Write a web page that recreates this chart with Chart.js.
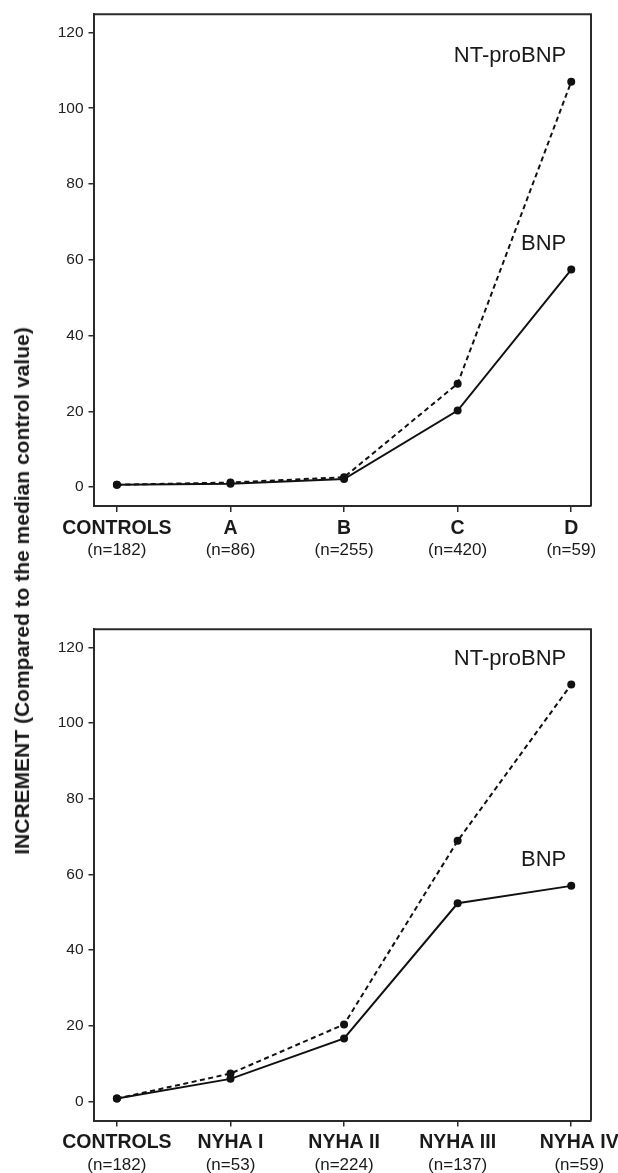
<!DOCTYPE html>
<html>
<head>
<meta charset="utf-8">
<script src="https://cdn.jsdelivr.net/npm/chart.js@4/dist/chart.umd.min.js"></script>
<style>
  html, body { margin: 0; padding: 0; background: #fff; }
  #page { position: relative; width: 618px; height: 1173px; overflow: hidden; }
  canvas { position: absolute; left: 0; }
  #cvStage { top: 0; }
  #cvNyha { top: 580px; }
  #ytitle {
    position: absolute; left: 22px; top: 591px; white-space: nowrap;
    transform: translate(-50%, -50%) rotate(-90deg);
    font: bold 21px "Liberation Sans", Arial, sans-serif; color: #1a1a1a;
  }
</style>
</head>
<body>
<div id="page">
  <canvas id="cvStage" width="618" height="580"></canvas>
  <canvas id="cvNyha" width="618" height="593"></canvas>
  <div id="ytitle">INCREMENT (Compared to the median control value)</div>
</div>
<script>
// ===== Data =====
const stageCats   = ["CONTROLS", "A", "B", "C", "D"];
const stageCounts = ["(n=182)", "(n=86)", "(n=255)", "(n=420)", "(n=59)"];
const stageBNP    = [0.6, 0.9, 2.1, 20.2, 57.4];
const stageNT     = [0.6, 1.2, 2.6, 27.3, 107.0];

const nyhaCats   = ["CONTROLS", "NYHA I", "NYHA II", "NYHA III", "NYHA IV"];
const nyhaCounts = ["(n=182)", "(n=53)", "(n=224)", "(n=137)", "(n=59)"];
const nyhaBNP    = [0.8, 6.0, 16.7, 52.4, 57.0];
const nyhaNT     = [0.8, 7.4, 20.4, 68.9, 110.2];

const yTicks = [0, 20, 40, 60, 80, 100, 120];

const FONT = '"Liberation Sans", Arial, sans-serif';
const INK = "#111";
const AXIS = "#2a2a2a";

// frame (top/right), category labels and series names
function labelsPlugin(cats, counts, lastShift) {
  return {
    id: "labels",
    afterDraw(chart) {
      const { ctx, chartArea: a, scales: { x } } = chart;
      ctx.save();
      ctx.strokeStyle = AXIS; ctx.lineWidth = 2;
      ctx.beginPath();
      ctx.moveTo(a.left, a.top); ctx.lineTo(a.right, a.top); ctx.lineTo(a.right, a.bottom);
      ctx.stroke();

      ctx.fillStyle = "#1a1a1a"; ctx.textAlign = "center"; ctx.textBaseline = "middle";
      cats.forEach((c, i) => {
        const px = x.getPixelForValue(i) + (i === cats.length - 1 ? lastShift : 0);
        ctx.font = "bold 19.5px " + FONT;
        ctx.fillText(c, px, a.bottom + 22.5);
        ctx.font = "17px " + FONT;
        ctx.fillText(counts[i], px, a.bottom + 44.5);
      });

      ctx.font = "22px " + FONT; ctx.textAlign = "right";
      chart.data.datasets.forEach((ds, di) => {
        const pts = chart.getDatasetMeta(di).data;
        const p = pts[pts.length - 1];
        ctx.fillText(ds.label, p.x - 5, p.y - 26);
      });
      ctx.restore();
    }
  };
}

function makeChart(id, cats, counts, bnp, nt, pad, xHeight, lastShift) {
  const toPts = arr => arr.map((v, i) => ({ x: i, y: v }));
  return new Chart(document.getElementById(id), {
    type: "line",
    data: {
      datasets: [
        { label: "NT-proBNP", data: toPts(nt), borderColor: INK, borderWidth: 2,
          borderDash: [5, 3.5], pointRadius: 4, pointBackgroundColor: INK, pointBorderWidth: 0, tension: 0 },
        { label: "BNP", data: toPts(bnp), borderColor: INK, borderWidth: 2,
          pointRadius: 4, pointBackgroundColor: INK, pointBorderWidth: 0, tension: 0 }
      ]
    },
    options: {
      responsive: false,
      animation: false,
      layout: { padding: pad },
      plugins: { legend: { display: false }, tooltip: { enabled: false } },
      scales: {
        x: {
          type: "linear", min: -0.206, max: 4.174,
          afterBuildTicks: s => { s.ticks = cats.map((c, i) => ({ value: i })); },
          afterFit: s => { s.height = xHeight; },
          ticks: { display: false },
          grid: { display: true, drawOnChartArea: false, drawTicks: true, tickLength: 6, color: AXIS, lineWidth: 1.5 },
          border: { display: true, color: AXIS, width: 2 }
        },
        y: {
          min: -5, max: 124.8,
          afterBuildTicks: s => { s.ticks = yTicks.map(v => ({ value: v })); },
          afterFit: s => { s.width = 93.5; },
          ticks: { color: "#222", font: { family: FONT, size: 15.5 }, padding: 5 },
          grid: { display: true, drawOnChartArea: false, drawTicks: true, tickLength: 5, color: AXIS, lineWidth: 1.5 },
          border: { display: true, color: AXIS, width: 2 }
        }
      }
    },
    plugins: [labelsPlugin(cats, counts, lastShift)]
  });
}

makeChart("cvStage", stageCats, stageCounts, stageBNP, stageNT,
  { top: 13.3, right: 27, left: 0, bottom: 0 }, 74, 0);
makeChart("cvNyha", nyhaCats, nyhaCounts, nyhaBNP, nyhaNT,
  { top: 49.3, right: 27, left: 0, bottom: 0 }, 52.5, 8);
</script>
</body>
</html>
